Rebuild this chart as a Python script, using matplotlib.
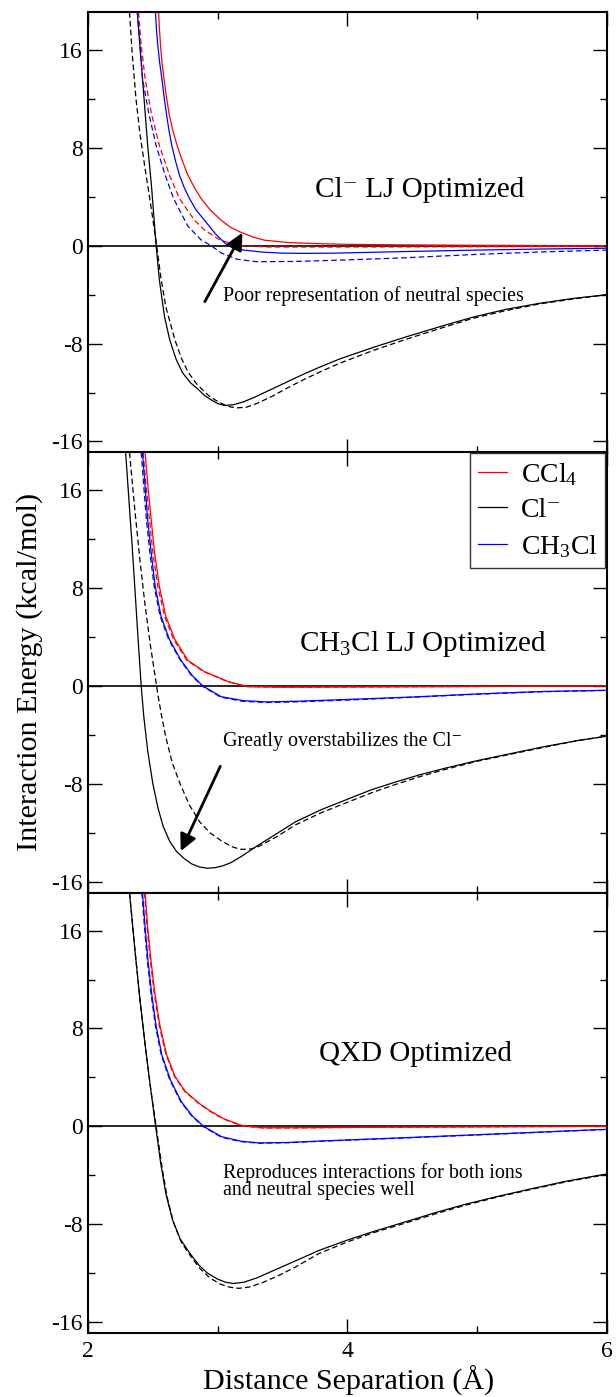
import matplotlib
matplotlib.use("Agg")
import matplotlib.pyplot as plt
from matplotlib.ticker import MultipleLocator

plt.rcParams['font.family'] = ['Liberation Serif', 'DejaVu Serif']
plt.rcParams['mathtext.fontset'] = 'custom'
plt.rcParams['mathtext.rm'] = 'Liberation Serif'
plt.rcParams['mathtext.it'] = 'Liberation Serif:italic'
plt.rcParams['axes.unicode_minus'] = False

# ---- Cl- LJ optimized (solid = model, dashed = reference) ----
p1_cl_r = [2.38, 2.40, 2.43, 2.46, 2.49, 2.525, 2.55, 2.59, 2.63, 2.68, 2.73, 2.79, 2.85, 2.90, 2.95, 3.00, 3.05, 3.12, 3.20, 3.28, 3.40, 3.54, 3.67, 3.79, 3.94, 4.20, 4.45, 4.70, 4.96, 5.22, 5.48, 5.74, 6.0]
p1_cl_e = [19.1, 16.4, 12.3, 8.2, 4.8, 0.0, -2.8, -5.8, -7.7, -9.3, -10.4, -11.2, -11.75, -12.25, -12.6, -12.9, -13.05, -13.0, -12.75, -12.4, -11.8, -11.1, -10.45, -9.9, -9.25, -8.3, -7.45, -6.65, -5.85, -5.2, -4.7, -4.3, -4.0]
p1_cl_ref_r = [2.32, 2.34, 2.37, 2.40, 2.44, 2.48, 2.53, 2.56, 2.60, 2.67, 2.72, 2.77, 2.83, 2.88, 2.93, 2.98, 3.05, 3.10, 3.15, 3.22, 3.30, 3.42, 3.54, 3.67, 3.79, 3.94, 4.20, 4.45, 4.70, 4.96, 5.22, 5.48, 5.74, 6.0]
p1_cl_ref_e = [19.1, 15.8, 12.0, 9.2, 6.3, 3.6, 0.0, -2.5, -5.0, -7.7, -9.2, -10.3, -11.2, -11.75, -12.25, -12.6, -13.0, -13.18, -13.25, -13.2, -12.9, -12.3, -11.6, -10.9, -10.3, -9.6, -8.55, -7.65, -6.8, -5.95, -5.3, -4.75, -4.35, -4.0]
p1_ccl4_r = [2.544, 2.550, 2.559, 2.570, 2.585, 2.603, 2.623, 2.652, 2.687, 2.725, 2.769, 2.818, 2.872, 2.945, 3.026, 3.10, 3.18, 3.27, 3.36, 3.54, 3.75, 4.0, 4.4, 5.0, 6.0]
p1_ccl4_e = [19.1, 17.8, 16.4, 15.0, 13.7, 12.3, 10.9, 9.5, 8.2, 7.0, 5.8, 4.8, 3.86, 2.9, 2.1, 1.5, 1.1, 0.72, 0.46, 0.27, 0.18, 0.12, 0.08, 0.04, 0.0]
p1_ccl4_ref_r = [2.39, 2.41, 2.44, 2.487, 2.55, 2.628, 2.705, 2.82, 2.897, 3.02, 3.18, 3.4, 4.0, 5.0, 6.0]
p1_ccl4_ref_e = [19.1, 16.4, 13.7, 10.9, 8.2, 5.77, 3.86, 2.1, 1.3, 0.45, 0.0, -0.1, -0.1, -0.08, -0.05]
p1_mecl_r = [2.52, 2.527, 2.538, 2.552, 2.569, 2.585, 2.603, 2.623, 2.646, 2.673, 2.705, 2.74, 2.782, 2.835, 2.897, 2.98, 3.077, 3.20, 3.35, 3.50, 3.65, 3.90, 4.40, 5.00, 5.50, 6.0]
p1_mecl_e = [19.1, 17.8, 16.4, 15.0, 13.7, 12.3, 10.9, 9.5, 8.2, 7.0, 5.77, 4.8, 3.86, 2.9, 2.1, 1.0, 0.0, -0.35, -0.52, -0.6, -0.62, -0.6, -0.48, -0.35, -0.26, -0.2]
p1_mecl_ref_r = [2.38, 2.40, 2.42, 2.467, 2.525, 2.595, 2.66, 2.77, 2.87, 2.95, 3.03, 3.15, 3.30, 3.60, 4.00, 4.40, 5.00, 5.50, 6.0]
p1_mecl_ref_e = [19.1, 16.4, 13.7, 10.9, 8.2, 5.77, 3.86, 1.6, 0.5, 0.0, -0.6, -1.1, -1.3, -1.28, -1.15, -1.0, -0.7, -0.5, -0.35]

# ---- CH3Cl LJ optimized ----
p2_cl_r = [2.29, 2.32, 2.34, 2.36, 2.385, 2.41, 2.43, 2.46, 2.50, 2.54, 2.58, 2.63, 2.68, 2.74, 2.80, 2.86, 2.92, 2.98, 3.04, 3.10, 3.18, 3.30, 3.45, 3.60, 3.80, 3.99, 4.18, 4.37, 4.56, 4.76, 5.00, 5.27, 5.52, 5.78, 6.0]
p2_cl_e = [19.1, 14.5, 11.5, 8.2, 4.0, 0.0, -2.5, -5.3, -8.0, -10.0, -11.5, -12.7, -13.5, -14.1, -14.55, -14.8, -14.9, -14.85, -14.7, -14.45, -13.95, -13.1, -12.1, -11.1, -10.1, -9.3, -8.5, -7.85, -7.25, -6.7, -6.1, -5.5, -4.95, -4.45, -4.1]
p2_cl_ref_r = [2.32, 2.36, 2.40, 2.44, 2.48, 2.52, 2.54, 2.57, 2.60, 2.65, 2.71, 2.78, 2.86, 2.94, 3.02, 3.10, 3.17, 3.24, 3.30, 3.45, 3.60, 3.80, 3.99, 4.18, 4.37, 4.56, 4.76, 5.00, 5.27, 5.52, 5.78, 6.0]
p2_cl_ref_e = [19.1, 14.5, 10.3, 6.6, 3.4, 0.6, -0.8, -2.6, -4.2, -6.3, -8.0, -9.7, -11.1, -12.0, -12.6, -13.1, -13.35, -13.35, -13.2, -12.35, -11.35, -10.35, -9.55, -8.75, -8.05, -7.4, -6.8, -6.15, -5.55, -5.0, -4.45, -4.1]
p2_ccl4_r = [2.44, 2.462, 2.487, 2.513, 2.55, 2.60, 2.67, 2.77, 2.897, 3.08, 3.23, 3.50, 4.50, 6.0]
p2_ccl4_e = [19.1, 16.3, 13.6, 10.9, 8.15, 5.7, 3.8, 2.1, 1.18, 0.36, -0.05, -0.1, -0.06, 0.0]
p2_ccl4_ref_r = [2.425, 2.448, 2.474, 2.50, 2.538, 2.59, 2.66, 2.762, 2.89, 3.075, 3.225, 3.50, 4.50, 6.0]
p2_ccl4_ref_e = [19.1, 16.3, 13.6, 10.9, 8.15, 5.7, 3.8, 2.1, 1.18, 0.36, -0.05, -0.1, -0.06, 0.0]
p2_mecl_r = [2.42, 2.44, 2.46, 2.487, 2.518, 2.563, 2.628, 2.717, 2.80, 2.885, 3.026, 3.20, 3.38, 3.60, 4.00, 4.50, 5.00, 5.50, 6.0]
p2_mecl_e = [19.1, 16.3, 13.6, 10.9, 8.15, 5.7, 3.8, 2.1, 0.9, 0.0, -0.87, -1.2, -1.3, -1.25, -1.1, -0.9, -0.65, -0.45, -0.35]
p2_mecl_ref_r = [2.41, 2.43, 2.45, 2.477, 2.51, 2.556, 2.622, 2.712, 2.795, 2.88, 3.02, 3.19, 3.37, 3.60, 4.00, 4.50, 5.00, 5.50, 6.0]
p2_mecl_ref_e = [19.1, 16.3, 13.6, 10.9, 8.15, 5.7, 3.8, 2.1, 0.9, 0.0, -0.9, -1.25, -1.35, -1.3, -1.15, -0.92, -0.67, -0.47, -0.36]

# ---- QXD optimized ----
p3_cl_r = [2.32, 2.36, 2.40, 2.44, 2.48, 2.52, 2.56, 2.60, 2.65, 2.71, 2.78, 2.85, 2.92, 3.00, 3.06, 3.12, 3.20, 3.30, 3.45, 3.60, 3.78, 4.00, 4.20, 4.45, 4.68, 4.91, 5.15, 5.42, 5.68, 5.94, 6.0]
p3_cl_e = [19.1, 14.6, 10.4, 6.7, 3.3, 0.1, -3.0, -5.5, -7.6, -9.2, -10.3, -11.3, -12.0, -12.5, -12.75, -12.85, -12.75, -12.4, -11.7, -11.0, -10.15, -9.3, -8.6, -7.8, -7.05, -6.37, -5.75, -5.1, -4.5, -4.0, -3.9]
p3_cl_ref_r = [2.32, 2.36, 2.40, 2.44, 2.48, 2.525, 2.57, 2.61, 2.66, 2.72, 2.79, 2.86, 2.94, 3.02, 3.09, 3.16, 3.24, 3.34, 3.47, 3.60, 3.78, 4.00, 4.20, 4.45, 4.68, 4.91, 5.15, 5.42, 5.68, 5.94, 6.0]
p3_cl_ref_e = [19.1, 14.6, 10.4, 6.7, 3.3, 0.0, -3.3, -5.8, -7.9, -9.5, -10.6, -11.6, -12.4, -12.9, -13.15, -13.25, -13.15, -12.8, -12.2, -11.5, -10.4, -9.45, -8.7, -7.9, -7.15, -6.45, -5.8, -5.15, -4.55, -4.05, -3.95]
p3_ccl4_r = [2.44, 2.46, 2.485, 2.515, 2.555, 2.605, 2.67, 2.75, 2.86, 2.95, 3.05, 3.19, 3.35, 3.60, 4.20, 6.0]
p3_ccl4_e = [19.1, 16.3, 13.6, 10.9, 8.2, 5.9, 4.1, 2.85, 1.85, 1.2, 0.6, 0.05, -0.12, -0.12, -0.08, 0.0]
p3_ccl4_ref_r = [2.435, 2.455, 2.48, 2.51, 2.55, 2.60, 2.665, 2.745, 2.855, 2.945, 3.045, 3.185, 3.35, 3.60, 4.20, 6.0]
p3_ccl4_ref_e = [19.1, 16.3, 13.6, 10.9, 8.2, 5.9, 4.1, 2.85, 1.85, 1.2, 0.6, 0.03, -0.14, -0.13, -0.08, 0.0]
p3_mecl_r = [2.42, 2.44, 2.462, 2.49, 2.525, 2.57, 2.635, 2.72, 2.80, 2.89, 3.03, 3.18, 3.32, 3.55, 3.80, 4.40, 5.20, 5.94, 6.0]
p3_mecl_e = [19.1, 16.3, 13.6, 10.9, 8.2, 5.8, 3.8, 2.0, 0.9, 0.0, -0.85, -1.22, -1.36, -1.32, -1.2, -0.95, -0.6, -0.27, -0.25]
p3_mecl_ref_r = [2.415, 2.435, 2.457, 2.485, 2.52, 2.565, 2.63, 2.715, 2.795, 2.885, 3.025, 3.175, 3.315, 3.55, 3.80, 4.40, 5.20, 5.94, 6.0]
p3_mecl_ref_e = [19.1, 16.3, 13.6, 10.9, 8.2, 5.8, 3.8, 2.0, 0.9, 0.0, -0.88, -1.25, -1.38, -1.34, -1.22, -0.97, -0.62, -0.28, -0.26]

panels = [
    ((p1_ccl4_r, p1_ccl4_e), (p1_ccl4_ref_r, p1_ccl4_ref_e),
     (p1_cl_r, p1_cl_e), (p1_cl_ref_r, p1_cl_ref_e),
     (p1_mecl_r, p1_mecl_e), (p1_mecl_ref_r, p1_mecl_ref_e)),
    ((p2_ccl4_r, p2_ccl4_e), (p2_ccl4_ref_r, p2_ccl4_ref_e),
     (p2_cl_r, p2_cl_e), (p2_cl_ref_r, p2_cl_ref_e),
     (p2_mecl_r, p2_mecl_e), (p2_mecl_ref_r, p2_mecl_ref_e)),
    ((p3_ccl4_r, p3_ccl4_e), (p3_ccl4_ref_r, p3_ccl4_ref_e),
     (p3_cl_r, p3_cl_e), (p3_cl_ref_r, p3_cl_ref_e),
     (p3_mecl_r, p3_mecl_e), (p3_mecl_ref_r, p3_mecl_ref_e)),
]
titles = ['Cl\u207b LJ Optimized', 'CH$_3$Cl LJ Optimized', 'QXD Optimized']
title_xy = [(3.75, 4.0), (3.63, 2.9), (3.78, 5.3)]
names = ['CCl$_4$', 'Cl\u207b', 'CH$_3$Cl']
colors = ['#ff0000', '#000000', '#0000ff']

fig = plt.figure(figsize=(6.16, 13.97), dpi=100)
W, H = 616.0, 1397.0
left, right = 88 / W, 607 / W
bottoms = [452.5, 892.7, 1333.0]
ph = 440.3 / H
axes = []
for b in bottoms:
    axes.append(fig.add_axes([left, 1 - b / H, right - left, ph]))

dash = (0, (4.5, 2.5))
for i, ax in enumerate(axes):
    curves = panels[i]
    handles = []
    for k in range(3):
        (rs, es), (rd, ed) = curves[2 * k], curves[2 * k + 1]
        h, = ax.plot(rs, es, color=colors[k], lw=0.9, label=names[k])
        ax.plot(rd, ed, color=colors[k], lw=0.9, linestyle=dash)
        handles.append(h)
    ax.axhline(0, color='k', lw=1.2, zorder=1)
    ax.set_xlim(2, 6)
    ax.set_ylim(-16.9, 19.1)
    ax.set_yticks([-16, -8, 0, 8, 16])
    ax.yaxis.set_minor_locator(MultipleLocator(4))
    ax.set_xticks([2, 4, 6])
    ax.xaxis.set_minor_locator(MultipleLocator(1))
    ax.tick_params(which='both', direction='in', top=True, right=True, labelsize=17)
    ax.tick_params(which='major', length=10, width=1.0)
    ax.tick_params(which='minor', length=5, width=1.0)
    ax.tick_params(axis='y', pad=4)
    ax.tick_params(axis='x', pad=6)
    for sp in ax.spines.values():
        sp.set_linewidth(1.5)
    if i < 2:
        ax.tick_params(labelbottom=False)
    ax.text(title_xy[i][0], title_xy[i][1], titles[i], fontsize=21, va='baseline')
    if i == 1:
        ax.legend(handles=handles, loc='upper right', bbox_to_anchor=(0.997, 0.998),
                  borderaxespad=0.0, fontsize=20, frameon=True, fancybox=False,
                  framealpha=1, edgecolor='#333333', handlelength=1.05,
                  handletextpad=0.5, labelspacing=0.35, borderpad=0.28)

arrow = dict(arrowstyle='-|>', color='k', lw=2, mutation_scale=25, shrinkA=0, shrinkB=0)
axes[0].annotate('', xy=(3.19, 1.06), xytext=(2.90, -4.57), arrowprops=arrow)
axes[0].text(3.04, -4.55, 'Poor representation of neutral species', fontsize=14.4, va='baseline')
axes[1].annotate('', xy=(2.715, -13.5), xytext=(3.02, -6.56), arrowprops=arrow)
axes[1].text(3.04, -4.9, 'Greatly overstabilizes the Cl\u207b', fontsize=14.4, va='baseline')
axes[2].text(3.04, -4.2, 'Reproduces interactions for both ions', fontsize=14.4, va='baseline')
axes[2].text(3.04, -5.65, 'and neutral species well', fontsize=14.4, va='baseline')

fig.text(30 / W, 1 - 671.5 / H, 'Interaction Energy (kcal/mol)', rotation=90,
         fontsize=21.7, ha='center', va='center')
fig.text(348.5 / W, 7 / H, 'Distance Separation (\u00c5)', fontsize=21.7,
         ha='center', va='baseline')

fig.savefig('out.png', dpi=100)
